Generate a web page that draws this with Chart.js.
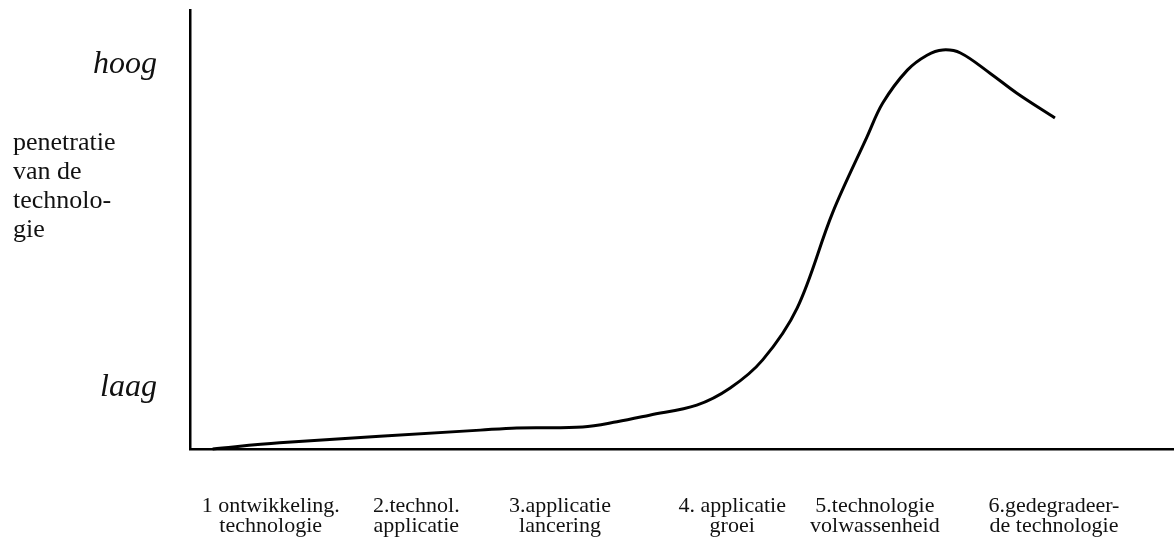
<!DOCTYPE html>
<html>
<head>
<meta charset="utf-8">
<script src="https://cdn.jsdelivr.net/npm/chart.js@4.4.1/dist/chart.umd.min.js"></script>
<style>
  html, body { margin: 0; padding: 0; background: #fff; }
  #wrap { position: relative; width: 1174px; height: 538px; }
</style>
</head>
<body>
<div id="wrap"><canvas id="lifecycle"></canvas></div>
<script>
// Curve: time (0-100 along the x axis) vs penetration (0-100)
const timeValues = [2.3, 9.1, 29.5, 33.2, 39.9, 43.4, 46.7, 51.5, 54.9, 58.2, 61.7, 65.3, 68.8, 70.4, 72.9, 74.9, 76.5, 78.3, 81.3, 84.0, 87.9];
const penetration = [0, 1.4, 4.3, 4.8, 5.0, 6.2, 7.7, 10.0, 13.9, 20.3, 32.1, 53.8, 71.1, 78.8, 86.3, 89.7, 90.9, 90.2, 85.6, 81.1, 75.4];

// Stage labels under the x axis
const stagePositions = [8.2, 23.0, 37.6, 55.1, 69.6, 87.8];
const stageLabels = [
  ['1 ontwikkeling.', 'technologie'],
  ['2.technol.', 'applicatie'],
  ['3.applicatie', 'lancering'],
  ['4. applicatie', 'groei'],
  ['5.technologie', 'volwassenheid'],
  ['6.gedegradeer-', 'de technologie'],
];

// Level labels on the y axis
const levelPositions = [14, 87.5];
const levelLabels = ['laag', 'hoog'];

const yTitleLines = ['penetratie', 'van de', 'technolo-', 'gie'];

const serif = "'Liberation Serif', 'DejaVu Serif', serif";

const yTitlePlugin = {
  id: 'yTitle',
  afterDraw(c) {
    const ctx = c.ctx;
    ctx.save();
    ctx.fillStyle = '#111';
    ctx.font = '26px ' + serif;
    ctx.textAlign = 'left';
    ctx.textBaseline = 'alphabetic';
    yTitleLines.forEach((line, i) => {
      ctx.fillText(line, 13, 150 + i * 29);
    });
    ctx.restore();
  },
};

const points = timeValues.map((t, i) => ({ x: t, y: penetration[i] }));

new Chart(document.getElementById('lifecycle'), {
  type: 'line',
  data: {
    datasets: [{
      data: points,
      borderColor: '#000',
      borderWidth: 3,
      fill: false,
      pointRadius: 0,
      tension: 0.35,
      clip: 10,
    }],
  },
  options: {
    responsive: true,
    maintainAspectRatio: false,
    animation: false,
    layout: {
      padding: { top: 10, right: 0, bottom: 0, left: 0 },
    },
    scales: {
      x: {
        type: 'linear',
        min: 0,
        max: 100,
        grid: { display: false, drawTicks: false },
        border: { display: true, color: '#000', width: 2.5 },
        afterBuildTicks: (scale) => {
          scale.ticks = stagePositions.map(v => ({ value: v }));
        },
        afterFit: (scale) => {
          scale.height = 89;
          scale.paddingLeft = 0;
          scale.paddingRight = 0;
        },
        ticks: {
          autoSkip: false,
          maxRotation: 0,
          padding: 47,
          color: '#111',
          font: { family: serif, size: 22, lineHeight: '20px' },
          callback: (value, index) => stageLabels[index],
        },
      },
      y: {
        type: 'linear',
        min: 0,
        max: 100,
        grid: { display: false, drawTicks: false },
        border: { display: true, color: '#000', width: 2.5 },
        afterBuildTicks: (scale) => {
          scale.ticks = levelPositions.map(v => ({ value: v }));
        },
        afterFit: (scale) => {
          scale.width = 190;
          scale.paddingTop = 0;
          scale.paddingBottom = 0;
        },
        ticks: {
          padding: 33,
          color: '#111',
          font: { family: serif, size: 32, style: 'italic' },
          callback: (value, index) => levelLabels[index],
        },
      },
    },
    plugins: {
      legend: { display: false },
      tooltip: { enabled: false },
    },
  },
  plugins: [yTitlePlugin],
});
</script>
</body>
</html>
